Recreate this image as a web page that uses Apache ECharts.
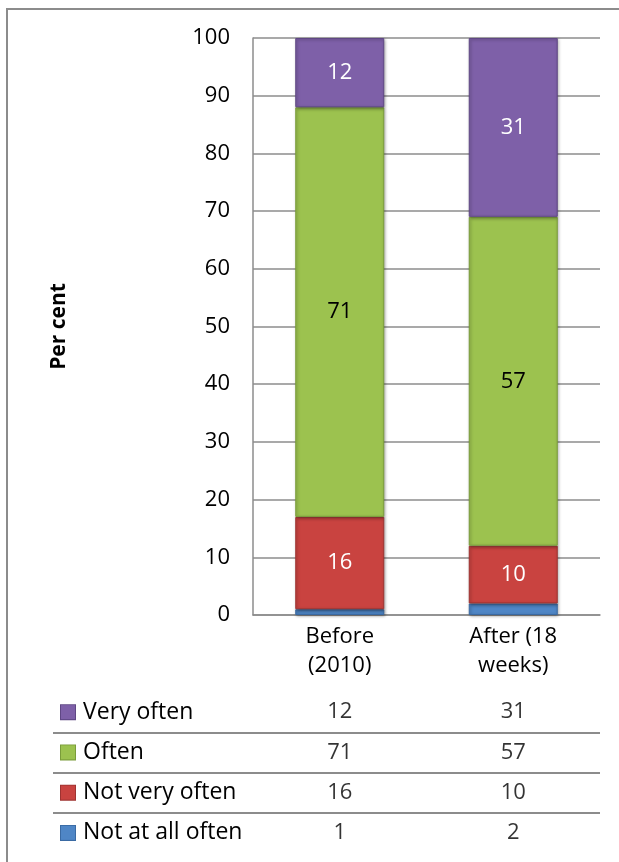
<!DOCTYPE html>
<html>
<head>
<meta charset="utf-8">
<script src="https://cdn.jsdelivr.net/npm/echarts@6/dist/echarts.min.js"></script>
<style>
html,body{margin:0;padding:0;background:#fff;}
#c{width:619px;height:862px;}
</style>
</head>
<body>
<div id="c"></div>
<script>
const categories = ['Before\n(2010)', 'After (18\nweeks)'];
const tableColumns = ['Before', 'After'];
const seriesNames = ['Not at all often', 'Not very often', 'Often', 'Very often'];
const notAtAllOften = [1, 2];
const notVeryOften = [16, 10];
const often = [71, 57];
const veryOften = [12, 31];
const yTicks = { min: 0, max: 100, interval: 10 };

const values = [notAtAllOften, notVeryOften, often, veryOften];
const colors = ['#4f86c6', '#c94340', '#9cc24f', '#7e60a8'];
const borders = ['#3a6aa3', '#9e3331', '#7a9c3a', '#5f4784'];
const labelColors = [null, '#ffffff', '#000000', '#ffffff'];
const rowOrder = ['Very often', 'Often', 'Not very often', 'Not at all often'];
const FONT = 'Open Sans';
const FS = 22;

const barSeries = seriesNames.map((name, i) => ({
  name: name,
  type: 'bar',
  stack: 'total',
  xAxisIndex: 0,
  yAxisIndex: 0,
  barWidth: 89,
  data: values[i],
  itemStyle: {
    color: colors[i],
    borderColor: borders[i],
    borderWidth: 1,
    shadowColor: 'rgba(0,0,0,0.35)',
    shadowBlur: 3,
    shadowOffsetX: 1,
    shadowOffsetY: 1
  },
  label: {
    show: labelColors[i] !== null,
    position: 'inside',
    color: labelColors[i] || '#000',
    fontFamily: FONT,
    fontSize: FS
  }
}));

const tableSeries = seriesNames.map((name, i) => ({
  name: name + ' table',
  type: 'scatter',
  xAxisIndex: 1,
  yAxisIndex: 1,
  symbolSize: 0,
  silent: true,
  data: values[i].map((v, j) => [tableColumns[j], name, v]),
  label: {
    show: true,
    position: 'inside',
    formatter: p => String(p.value[2]),
    color: '#000',
    fontFamily: FONT,
    fontSize: FS
  }
}));

const rich = { t: { fontFamily: FONT, fontSize: 23, color: '#000', padding: [0, 0, 0, 8] } };
seriesNames.forEach((n, i) => {
  rich['s' + i] = { width: 14, height: 14, backgroundColor: colors[i], borderColor: borders[i], borderWidth: 1 };
});

const option = {
  animation: false,
  backgroundColor: '#ffffff',
  textStyle: { fontFamily: FONT },
  graphic: [{
    type: 'polyline',
    shape: { points: [[7, 862], [7, 9], [619, 9]] },
    style: { stroke: '#8c8c8c', lineWidth: 2, fill: null },
    silent: true
  }],
  grid: [
    { left: 253, right: 19, top: 38, bottom: 247 },
    { left: 253, right: 19, top: 692, height: 161 },
    { left: 53, right: 19, top: 692, height: 161 }
  ],
  xAxis: [
    {
      gridIndex: 0, type: 'category', data: categories,
      axisLine: { show: true, lineStyle: { color: '#8c8c8c', width: 1.5 } },
      axisTick: { show: false },
      axisLabel: { color: '#000', fontFamily: FONT, fontSize: FS, lineHeight: 29, margin: 7 }
    },
    {
      gridIndex: 1, type: 'category', data: tableColumns, show: false
    },
    {
      gridIndex: 2, type: 'value', min: 0, max: 1, show: false
    }
  ],
  yAxis: [
    {
      gridIndex: 0, type: 'value', min: yTicks.min, max: yTicks.max, interval: yTicks.interval,
      name: 'Per cent', nameLocation: 'middle', nameRotate: 90, nameGap: 183,
      nameTextStyle: { fontFamily: FONT, fontSize: 21, fontWeight: 'bold', color: '#000' },
      axisLine: { show: true, lineStyle: { color: '#8c8c8c', width: 1.5 } },
      axisTick: { show: false },
      axisLabel: { color: '#000', fontFamily: FONT, fontSize: FS, margin: 23 },
      splitLine: { show: true, lineStyle: { color: '#8c8c8c', width: 1.5 } }
    },
    {
      gridIndex: 1, type: 'category', data: rowOrder, inverse: true,
      axisLine: { show: false }, axisTick: { show: false },
      splitLine: { show: false },
      axisLabel: {
        align: 'left', margin: 192,
        formatter: (v) => '{s' + seriesNames.indexOf(v) + '|}{t|' + v + '}',
        rich: rich
      }
    },
    {
      gridIndex: 2, type: 'category', data: rowOrder, inverse: true,
      axisLine: { show: false }, axisTick: { show: false }, axisLabel: { show: false },
      splitLine: { show: true, showMinLine: false, showMaxLine: false, lineStyle: { color: '#8c8c8c', width: 2 } }
    }
  ],
  series: barSeries.concat(tableSeries)
};

const chart = echarts.init(document.getElementById('c'), null, { renderer: 'canvas' });
chart.setOption(option);
</script>
</body>
</html>
